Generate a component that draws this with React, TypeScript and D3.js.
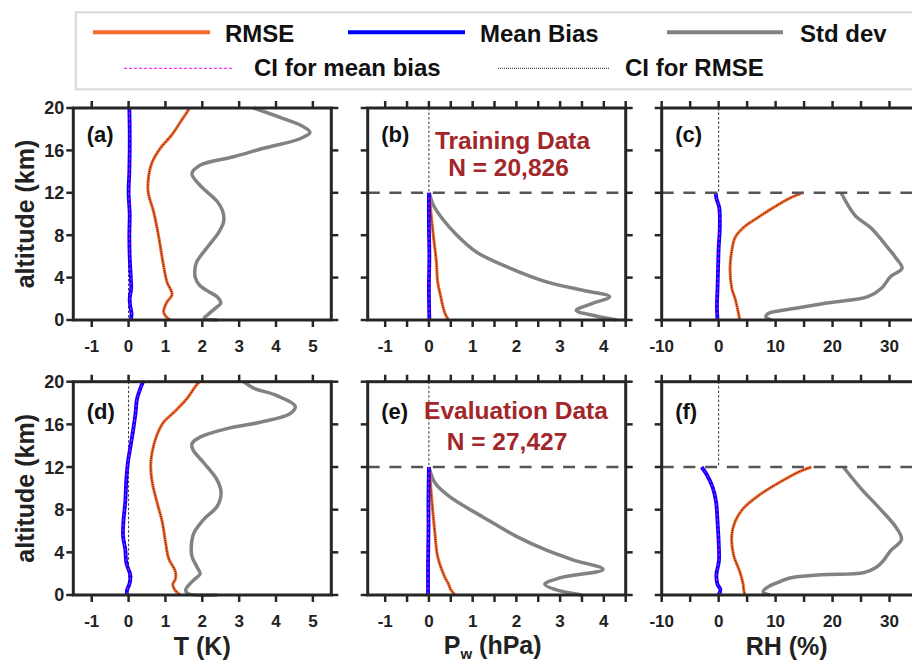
import React from 'react';
import * as d3 from 'd3';

type Pt = [number, number]; // [altitude (km), value]

// ---------- Data (altitude km, value) ----------
// (a) Temperature, training
const tBiasTrain: Pt[] = [[0, 0.06], [0.6, 0.08], [1.2, 0.05], [2, 0.03], [3, 0.07], [4, 0.06], [6, 0.03], [8, 0.02], [10, 0.03], [12, 0.0], [14, 0.02], [16, 0.03], [18, 0.03], [20, 0.02]];
const tRmseTrain: Pt[] = [[0, 1.13], [0.4, 1.0], [0.8, 0.95], [1.7, 1.04], [2.4, 1.18], [3.6, 1.04], [5.5, 0.93], [8, 0.81], [10.2, 0.68], [12.1, 0.53], [13.7, 0.55], [14.9, 0.64], [16.2, 0.86], [17.5, 1.18], [18.7, 1.41], [19.7, 1.6], [20, 1.65]];
const tStdTrain: Pt[] = [[0, 2.4], [0.15, 2.05], [0.5, 2.15], [1.1, 2.35], [1.6, 2.5], [2.2, 2.4], [2.7, 2.16], [3.3, 1.92], [4, 1.81], [4.8, 1.8], [5.5, 1.85], [7.1, 2.19], [8.3, 2.45], [9.3, 2.58], [10.3, 2.55], [11.2, 2.4], [12.7, 1.94], [13.8, 1.72], [14.6, 1.94], [15.4, 2.85], [16.2, 3.66], [17.1, 4.65], [17.7, 4.92], [18.4, 4.65], [19.0, 4.2], [20, 3.39]];

// (b) Water vapour pressure, training
const pBiasTrain: Pt[] = [[0, 0.01], [3, 0.0], [6, 0.01], [9, 0.0], [12, 0.0]];
const pRmseTrain: Pt[] = [[0, 0.45], [0.5, 0.38], [1.1, 0.33], [2.4, 0.26], [3.6, 0.2], [5.5, 0.17], [8, 0.1], [10, 0.05], [12, 0.01]];
const pStdTrain: Pt[] = [[0, 4.3], [0.4, 3.8], [0.9, 3.37], [1.5, 3.7], [2.2, 4.13], [2.8, 3.52], [3.6, 2.69], [4.9, 1.85], [6.4, 1.09], [8, 0.64], [9.6, 0.3], [10.85, 0.1], [12, 0.01]];

// (c) Relative humidity, training
const rBiasTrain: Pt[] = [[0, -0.2], [1.1, -0.3], [3, -0.2], [4.9, -0.1], [6.8, 0], [8.7, 0.2], [10.6, 0.1], [11.5, -0.4], [12, -0.5]];
const rRmseTrain: Pt[] = [[0, 3.7], [1.1, 3.3], [2, 2.9], [3, 2.3], [4.9, 2.0], [6.5, 2.3], [7.8, 2.9], [8.7, 4.3], [9.6, 6.7], [10.6, 9.6], [11.5, 12.5], [12, 14.7]];
const rStdTrain: Pt[] = [[0, 9.3], [0.3, 8.3], [0.63, 8.8], [1.1, 13.5], [1.6, 19], [2.2, 26.2], [3.0, 28.6], [4.1, 30.2], [4.87, 32.2], [5.8, 31.2], [6.76, 29.8], [8.65, 26.8], [9.9, 23.9], [12, 21.5]];

// (d) Temperature, evaluation
const tBiasEval: Pt[] = [[0, -0.05], [0.5, -0.04], [1.0, 0.02], [1.8, 0.05], [3.0, -0.06], [4.3, -0.09], [5.5, -0.15], [6.9, -0.14], [8.7, -0.09], [10.9, -0.06], [12.4, -0.02], [14.1, 0.06], [15.6, 0.13], [17.1, 0.19], [18.4, 0.23], [20, 0.39]];
const tRmseEval: Pt[] = [[0, 1.4], [0.5, 1.25], [1.0, 1.2], [1.5, 1.27], [2.2, 1.27], [3.4, 1.09], [5.0, 1.0], [6.9, 0.91], [8.7, 0.77], [10.6, 0.64], [12.1, 0.6], [13.4, 0.64], [15.0, 0.77], [16.2, 0.95], [17.1, 1.22], [18.4, 1.58], [19.5, 1.8], [20, 1.92]];
const tStdEval: Pt[] = [[0, 2.4], [0.15, 1.6], [0.5, 1.55], [1.0, 1.65], [1.5, 1.8], [2.0, 1.94], [2.6, 1.86], [3.6, 1.72], [4.5, 1.7], [5.8, 1.77], [7.1, 2.04], [8.3, 2.4], [9.6, 2.51], [10.8, 2.4], [12.4, 2.04], [13.6, 1.75], [14.2, 1.72], [14.8, 1.94], [15.6, 2.67], [16.2, 3.57], [17.0, 4.38], [17.7, 4.52], [18.7, 4.02], [19.4, 3.39], [20, 3.12]];

// (e) Water vapour pressure, evaluation
const pBiasEval: Pt[] = [[0, -0.02], [3, -0.02], [6, -0.01], [9, -0.01], [12, 0]];
const pRmseEval: Pt[] = [[0, 0.6], [0.5, 0.5], [1.0, 0.45], [1.8, 0.35], [3.6, 0.2], [6.1, 0.13], [9.2, 0.06], [12, 0.01]];
const pStdEval: Pt[] = [[0, 3.5], [0.5, 2.9], [1.0, 2.65], [1.6, 2.99], [2.4, 3.98], [3.3, 3.29], [4.2, 2.69], [5.5, 2.0], [7.3, 1.24], [9.2, 0.48], [10.5, 0.14], [12, 0]];

// (f) Relative humidity, evaluation
const rBiasEval: Pt[] = [[0, 0.0], [0.5, 0.3], [1.0, -0.2], [1.9, -0.4], [3.2, 0.05], [5.0, 0], [6.9, -0.2], [8.8, -0.47], [10.1, -1.05], [11.3, -2.1], [12, -3.0]];
const rRmseEval: Pt[] = [[0, 4.6], [0.5, 4.4], [1.0, 4.3], [2.2, 3.7], [3.8, 2.6], [5.6, 2.3], [6.9, 2.9], [8.1, 4.3], [9.4, 7.2], [10.6, 10.8], [11.6, 14.3], [12, 16.3]];
const rStdEval: Pt[] = [[0, 9], [0.3, 7.8], [0.7, 8.5], [1.2, 10.5], [1.6, 12.5], [1.9, 18], [2.1, 25.5], [2.6, 27.7], [3.2, 28.9], [4.1, 30.1], [5.2, 32.1], [6.3, 31.2], [8.1, 28.3], [10.1, 24.8], [12, 21.9]];

// ---------- Axes ----------
const altTicks = [0, 4, 8, 12, 16, 20];
const tTicks = [-1, 0, 1, 2, 3, 4, 5];
const tLabels = [-1, 0, 1, 2, 3, 4, 5];
const pTicks = [-1, -0.5, 0, 0.5, 1, 1.5, 2, 2.5, 3, 3.5, 4, 4.5];
const pLabels = [-1, 0, 1, 2, 3, 4];
const rTicks = [-10, -5, 0, 5, 10, 15, 20, 25, 30, 35];
const rLabels = [-10, 0, 10, 20, 30];
const panelLetters = ['(a)', '(b)', '(c)', '(d)', '(e)', '(f)'];
const legendNames = ['RMSE', 'Mean Bias', 'Std dev', 'CI for mean bias', 'CI for RMSE'];

const FONT = "'Liberation Sans', Arial, Helvetica, sans-serif";
const C_RMSE = '#F8672B';
const C_BIAS = '#0000FF';
const C_STD = '#828282';
const C_CI_BIAS = '#FF00FF';
const C_AXIS = '#262626';
const C_TITLE = '#A3262A';

const COL_LEFT = [73.3, 367.7, 661.7];
const PANEL_W = 258;
const ROWS = [
  { top: 108, bottom: 320 },
  { top: 381.7, bottom: 595 },
];

interface PanelProps {
  left: number;
  top: number;
  bottom: number;
  domain: [number, number];
  ticks: number[];
  labels: number[];
  bias: Pt[];
  rmse: Pt[];
  std: Pt[];
  letter: string;
  capped: boolean;
  showY: boolean;
  note?: { l1: string; l2: string; x1: number; y1: number; x2: number; y2: number };
  letterDy: number;
}

function Panel(p: PanelProps) {
  const x = d3.scaleLinear().domain(p.domain).range([p.left, p.left + PANEL_W]);
  const y = d3.scaleLinear().domain([0, 20]).range([p.bottom, p.top]);
  const line = d3
    .line<Pt>()
    .x((d) => x(d[1]))
    .y((d) => y(d[0]))
    .curve(d3.curveCatmullRom.alpha(0.5));
  const right = p.left + PANEL_W;
  const tickLen = 7;
  return (
    <g>
      <line
        x1={x(0)}
        x2={x(0)}
        y1={p.top}
        y2={p.capped ? y(12) : p.bottom}
        stroke="#333"
        strokeWidth={1}
        strokeDasharray="2.5,2"
      />
      <path d={line(p.std) || ''} fill="none" stroke={C_STD} strokeWidth={3.5} strokeLinejoin="round" />
      <path d={line(p.rmse) || ''} fill="none" stroke={C_RMSE} strokeWidth={3} strokeLinejoin="round" />
      <path d={line(p.rmse) || ''} fill="none" stroke="#111" strokeWidth={1} strokeDasharray="1,1.2" />
      <path d={line(p.bias) || ''} fill="none" stroke={C_BIAS} strokeWidth={3.8} strokeLinejoin="round" />
      <path d={line(p.bias) || ''} fill="none" stroke={C_CI_BIAS} strokeWidth={1} strokeDasharray="3,2" />
      {p.capped && (
        <line x1={p.left} x2={right} y1={y(12)} y2={y(12)} stroke="#555" strokeWidth={2.5} strokeDasharray="12,9.7" />
      )}
      <rect x={p.left} y={p.top} width={PANEL_W} height={p.bottom - p.top} fill="none" stroke={C_AXIS} strokeWidth={3} />
      {p.ticks.map((t) => (
        <g key={'xt' + t}>
          <line x1={x(t)} x2={x(t)} y1={p.top} y2={p.top - tickLen} stroke={C_AXIS} strokeWidth={2.5} />
          <line x1={x(t)} x2={x(t)} y1={p.bottom} y2={p.bottom + tickLen} stroke={C_AXIS} strokeWidth={2.5} />
        </g>
      ))}
      {p.labels.map((t) => (
        <text key={'xl' + t} x={x(t)} y={p.bottom + 32} textAnchor="middle" fontSize={17} fontWeight="bold" fill="#222">
          {String(t)}
        </text>
      ))}
      {altTicks.map((t) => (
        <g key={'yt' + t}>
          <line x1={p.left} x2={p.left - tickLen} y1={y(t)} y2={y(t)} stroke={C_AXIS} strokeWidth={2.5} />
          <line x1={right} x2={right + tickLen} y1={y(t)} y2={y(t)} stroke={C_AXIS} strokeWidth={2.5} />
        </g>
      ))}
      {p.showY &&
        altTicks.map((t) => (
          <text key={'yl' + t} x={p.left - 9} y={y(t)} dy="0.36em" textAnchor="end" fontSize={18} fontWeight="bold" fill="#222">
            {t}
          </text>
        ))}
      <text x={p.left + 13.5} y={p.top + p.letterDy} fontSize={22} fontWeight="bold" fill="#111">
        {p.letter}
      </text>
      {p.note && (
        <g fill={C_TITLE} fontSize={24.5} fontWeight="bold" textAnchor="middle">
          <text x={p.note.x1} y={p.note.y1}>{p.note.l1}</text>
          <text x={p.note.x2} y={p.note.y2}>{p.note.l2}</text>
        </g>
      )}
    </g>
  );
}

export default function App() {
  const rowSeries = [
    [
      { bias: tBiasTrain, rmse: tRmseTrain, std: tStdTrain },
      { bias: pBiasTrain, rmse: pRmseTrain, std: pStdTrain },
      { bias: rBiasTrain, rmse: rRmseTrain, std: rStdTrain },
    ],
    [
      { bias: tBiasEval, rmse: tRmseEval, std: tStdEval },
      { bias: pBiasEval, rmse: pRmseEval, std: pStdEval },
      { bias: rBiasEval, rmse: rRmseEval, std: rStdEval },
    ],
  ];
  const cols = [
    { domain: [-1.5, 5.5] as [number, number], ticks: tTicks, labels: tLabels, capped: false },
    { domain: [-1.4, 4.5] as [number, number], ticks: pTicks, labels: pLabels, capped: true },
    { domain: [-10, 35.3] as [number, number], ticks: rTicks, labels: rLabels, capped: true },
  ];
  const notes = [
    { l1: 'Training Data', l2: 'N = 20,826', x1: 512.5, y1: 149, x2: 508.5, y2: 176 },
    { l1: 'Evaluation Data', l2: 'N = 27,427', x1: 516, y1: 419, x2: 507, y2: 450 },
  ];
  const letterDy = [34, 37];

  return (
    <svg
      width={912}
      height={665}
      style={{ position: 'absolute', left: 0, top: 0, display: 'block', background: '#fff' }}
      fontFamily={FONT}
    >
      <rect x={0} y={0} width={912} height={665} fill="#fff" />
      <g>
        <rect x={75.7} y={12.3} width={860} height={77} fill="#fff" stroke="#D8D8D8" strokeWidth={2} />
        <line x1={93} x2={210} y1={32.3} y2={32.3} stroke={C_RMSE} strokeWidth={4} />
        <line x1={348} x2={465} y1={32.3} y2={32.3} stroke={C_BIAS} strokeWidth={4} />
        <line x1={667} x2={783} y1={32.3} y2={32.3} stroke={C_STD} strokeWidth={4} />
        <line x1={124} x2={233} y1={68.3} y2={68.3} stroke={C_CI_BIAS} strokeWidth={1} strokeDasharray="3,2" />
        <line x1={498} x2={609} y1={68.3} y2={68.3} stroke="#222" strokeWidth={1} strokeDasharray="1,1" />
        <g fontSize={24} fontWeight="bold" fill="#111">
          <text x={225} y={42}>{legendNames[0]}</text>
          <text x={480} y={42}>{legendNames[1]}</text>
          <text x={800} y={42}>{legendNames[2]}</text>
          <text x={254} y={76}>{legendNames[3]}</text>
          <text x={625} y={76}>{legendNames[4]}</text>
        </g>
      </g>
      {ROWS.map((row, ri) =>
        cols.map((c, ci) => (
          <Panel
            key={ri + '-' + ci}
            left={COL_LEFT[ci]}
            top={row.top}
            bottom={row.bottom}
            domain={c.domain}
            ticks={c.ticks}
            labels={c.labels}
            bias={rowSeries[ri][ci].bias}
            rmse={rowSeries[ri][ci].rmse}
            std={rowSeries[ri][ci].std}
            letter={panelLetters[ri * 3 + ci]}
            capped={c.capped}
            showY={ci === 0}
            note={ci === 1 ? notes[ri] : undefined}
            letterDy={letterDy[ri]}
          />
        ))
      )}
      {ROWS.map((row, ri) => (
        <text
          key={'ytl' + ri}
          transform={`translate(34, ${(row.top + row.bottom) / 2}) rotate(-90)`}
          textAnchor="middle"
          fontSize={25}
          fontWeight="bold"
          fill="#222"
        >
          altitude (km)
        </text>
      ))}
      <g fontSize={25} fontWeight="bold" fill="#222" textAnchor="middle">
        <text x={COL_LEFT[0] + PANEL_W / 2} y={655}>T (K)</text>
        <text x={COL_LEFT[1] + PANEL_W / 2 - 4} y={654}>
          P<tspan fontSize={15} dy={5}>w</tspan>
          <tspan dy={-5}> (hPa)</tspan>
        </text>
        <text x={COL_LEFT[2] + PANEL_W / 2 - 4} y={655}>RH (%)</text>
      </g>
    </svg>
  );
}
